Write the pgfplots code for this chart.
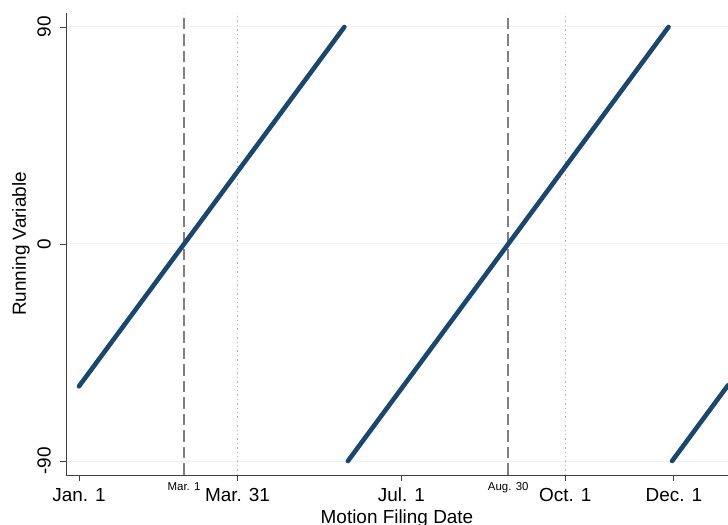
\documentclass[border=0pt]{standalone}
\usepackage{pgfplots}
\pgfplotsset{compat=1.18}
\usepackage{fontspec}
\setmainfont{Liberation Sans}
\definecolor{navy}{HTML}{1A476F}
\definecolor{gridc}{HTML}{EAF2F3}
\definecolor{dashc}{HTML}{808080}
\definecolor{dotc}{HTML}{B4B4B4}
\begin{document}
\begin{tikzpicture}
\path[use as bounding box] (0,0) rectangle (728bp,525bp);
\begin{axis}[
  at={(66bp,50bp)}, anchor=south west,
  scale only axis, width=662bp, height=462bp,
  xmin=-7.3, xmax=364.4, ymin=-95.8, ymax=95.8,
  axis x line*=bottom, axis y line*=left,
  axis line style={-, black!75, line width=0.9bp},
  tick align=outside,
  major tick length=6bp,
  tick style={black!75, line width=0.9bp},
  xtick={0,89,181,273,334},
  xticklabels={Jan. 1, Mar. 31, Jul. 1, Oct. 1, Dec. 1},
  extra x ticks={59,241},
  extra x tick labels={Mar. 1, Aug. 30},
  extra x tick style={major tick length=0pt, tick style={draw=none},
    tick label style={font=\fontsize{11.5}{13}\selectfont, inner sep=4.5bp}},
  ytick={-90,0,90},
  ymajorgrids,
  major grid style={gridc, line width=1bp},
  /pgf/number format/assume math mode=true,
  tick label style={font=\fontsize{19}{21}\selectfont},
  xticklabel style={inner sep=7bp},
  yticklabel style={rotate=90, anchor=south, inner sep=9bp},
  every axis x label/.style={at={(axis description cs:0.5,0)}, anchor=base, yshift=-48bp, font=\fontsize{19}{21}\selectfont},
  every axis y label/.style={at={(axis description cs:0,0.5)}, rotate=90, anchor=base, yshift=40bp, font=\fontsize{19}{21}\selectfont},
  xlabel={Motion Filing Date},
  ylabel={Running Variable},
  clip=true,
]
\addplot[dashc, line width=2bp, dash pattern=on 11.5bp off 5bp, forget plot] coordinates {(59,-95.8) (59,95.8)};
\addplot[dashc, line width=2bp, dash pattern=on 11.5bp off 5bp, forget plot] coordinates {(241,-95.8) (241,95.8)};
\addplot[dotc, line width=1.2bp, dash pattern=on 1.3bp off 3.1bp, forget plot] coordinates {(89,-95.8) (89,95.8)};
\addplot[dotc, line width=1.2bp, dash pattern=on 1.3bp off 3.1bp, forget plot] coordinates {(273,-95.8) (273,95.8)};
\addplot[navy, line width=4.6bp, line cap=round] coordinates {(0,-59) (149,90)};
\addplot[navy, line width=4.6bp, line cap=round] coordinates {(151,-90) (331,90)};
\addplot[navy, line width=4.6bp, line cap=round] coordinates {(333,-90) (364.4,-58.6)};
\end{axis}
\end{tikzpicture}
\end{document}
